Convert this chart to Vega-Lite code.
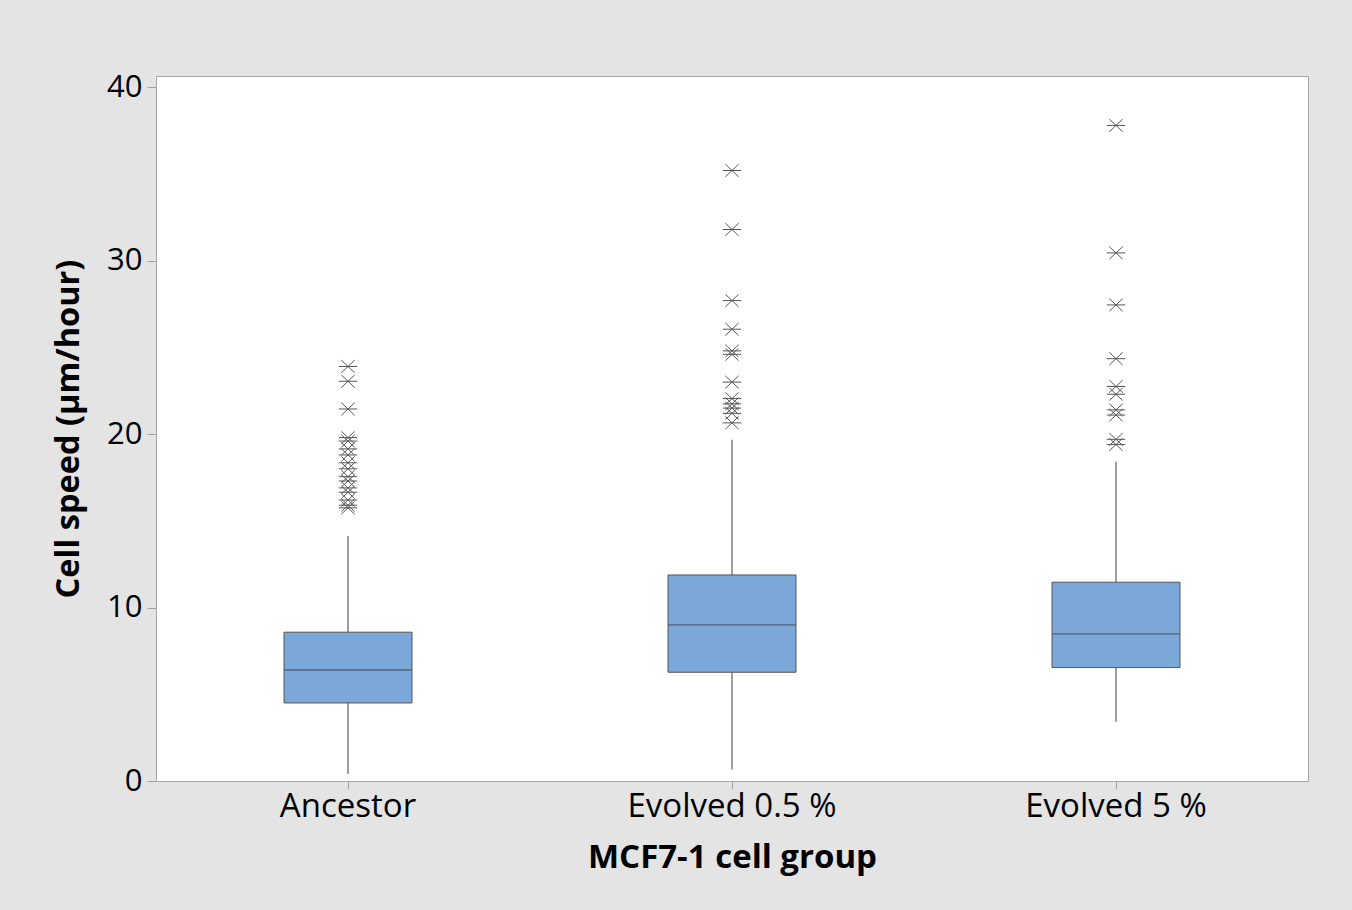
{
  "$schema": "https://vega.github.io/schema/vega-lite/v6.json",
  "autosize": "none",
  "width": 1152,
  "height": 705,
  "padding": {"left": 156, "top": 76, "right": 44, "bottom": 129},
  "background": "#e4e4e4",
  "config": {
    "font": "Open Sans",
    "view": {"fill": "#ffffff", "stroke": "#a6a6a6", "strokeWidth": 1},
    "axis": {
      "labelFont": "Open Sans",
      "titleFont": "Open Sans",
      "labelColor": "#000000",
      "titleColor": "#000000",
      "tickColor": "#a0a0a0",
      "labelLimit": 0,
      "domain": false,
      "grid": false
    }
  },
  "datasets": {
    "boxes": [
      {"group": "Ancestor", "lower": 0.4, "q1": 4.5, "median": 6.4, "q3": 8.58, "upper": 14.13},
      {"group": "Evolved 0.5 %", "lower": 0.67, "q1": 6.27, "median": 9.0, "q3": 11.88, "upper": 19.67},
      {"group": "Evolved 5 %", "lower": 3.42, "q1": 6.54, "median": 8.48, "q3": 11.46, "upper": 18.41}
    ],
    "outliers": [
      {"group": "Ancestor", "speed": 23.9},
      {"group": "Ancestor", "speed": 23.05},
      {"group": "Ancestor", "speed": 21.45},
      {"group": "Ancestor", "speed": 19.8},
      {"group": "Ancestor", "speed": 19.6},
      {"group": "Ancestor", "speed": 19.15},
      {"group": "Ancestor", "speed": 18.8},
      {"group": "Ancestor", "speed": 18.35},
      {"group": "Ancestor", "speed": 18.0},
      {"group": "Ancestor", "speed": 17.55},
      {"group": "Ancestor", "speed": 17.3},
      {"group": "Ancestor", "speed": 16.9},
      {"group": "Ancestor", "speed": 16.65},
      {"group": "Ancestor", "speed": 16.2},
      {"group": "Ancestor", "speed": 15.9},
      {"group": "Ancestor", "speed": 15.75},
      {"group": "Evolved 0.5 %", "speed": 35.2},
      {"group": "Evolved 0.5 %", "speed": 31.8},
      {"group": "Evolved 0.5 %", "speed": 27.7},
      {"group": "Evolved 0.5 %", "speed": 26.05},
      {"group": "Evolved 0.5 %", "speed": 24.8},
      {"group": "Evolved 0.5 %", "speed": 24.6},
      {"group": "Evolved 0.5 %", "speed": 23.0},
      {"group": "Evolved 0.5 %", "speed": 22.05},
      {"group": "Evolved 0.5 %", "speed": 21.75},
      {"group": "Evolved 0.5 %", "speed": 21.5},
      {"group": "Evolved 0.5 %", "speed": 21.2},
      {"group": "Evolved 0.5 %", "speed": 20.65},
      {"group": "Evolved 5 %", "speed": 37.8},
      {"group": "Evolved 5 %", "speed": 30.45},
      {"group": "Evolved 5 %", "speed": 27.45},
      {"group": "Evolved 5 %", "speed": 24.35},
      {"group": "Evolved 5 %", "speed": 22.75},
      {"group": "Evolved 5 %", "speed": 22.3},
      {"group": "Evolved 5 %", "speed": 21.4},
      {"group": "Evolved 5 %", "speed": 21.1},
      {"group": "Evolved 5 %", "speed": 19.7},
      {"group": "Evolved 5 %", "speed": 19.4}
    ]
  },
  "encoding": {
    "x": {
      "field": "group",
      "type": "nominal",
      "sort": ["Ancestor", "Evolved 0.5 %", "Evolved 5 %"],
      "scale": {"paddingInner": 0, "paddingOuter": 0},
      "axis": {
        "title": "MCF7-1 cell group",
        "labelAngle": 0,
        "labelFontSize": 33,
        "labelPadding": 1,
        "tickSize": 8,
        "titleFontSize": 33,
        "titleFontWeight": "bold",
        "titlePadding": 18
      }
    }
  },
  "layer": [
    {
      "data": {"name": "boxes"},
      "mark": {"type": "rule", "color": "#5f5f5f", "strokeWidth": 1.2},
      "encoding": {
        "y": {
          "field": "lower",
          "type": "quantitative",
          "scale": {"domain": [0, 40.65], "nice": false, "zero": false},
          "axis": {
            "title": "Cell speed (µm/hour)",
            "values": [0, 10, 20, 30, 40],
            "labelFontSize": 31,
            "labelPadding": 5,
            "tickSize": 9,
            "titleFontSize": 32.5,
            "titleFontWeight": "bold",
            "titlePadding": 21
          }
        },
        "y2": {"field": "upper"}
      }
    },
    {
      "data": {"name": "boxes"},
      "mark": {"type": "bar", "size": 128, "fill": "#7ba7d9", "stroke": "#545454", "strokeWidth": 1},
      "encoding": {
        "y": {"field": "q1", "type": "quantitative"},
        "y2": {"field": "q3"}
      }
    },
    {
      "data": {"name": "boxes"},
      "mark": {"type": "tick", "size": 128, "thickness": 1.8, "color": "#56606c"},
      "encoding": {
        "y": {"field": "median", "type": "quantitative"}
      }
    },
    {
      "data": {"name": "outliers"},
      "mark": {
        "type": "point",
        "shape": "M-1,0H1M-0.72,-0.68L0.72,0.68M-0.72,0.68L0.72,-0.68",
        "size": 340,
        "filled": false,
        "stroke": "#555555",
        "strokeWidth": 1,
        "opacity": 1
      },
      "encoding": {
        "y": {"field": "speed", "type": "quantitative"}
      }
    }
  ]
}
